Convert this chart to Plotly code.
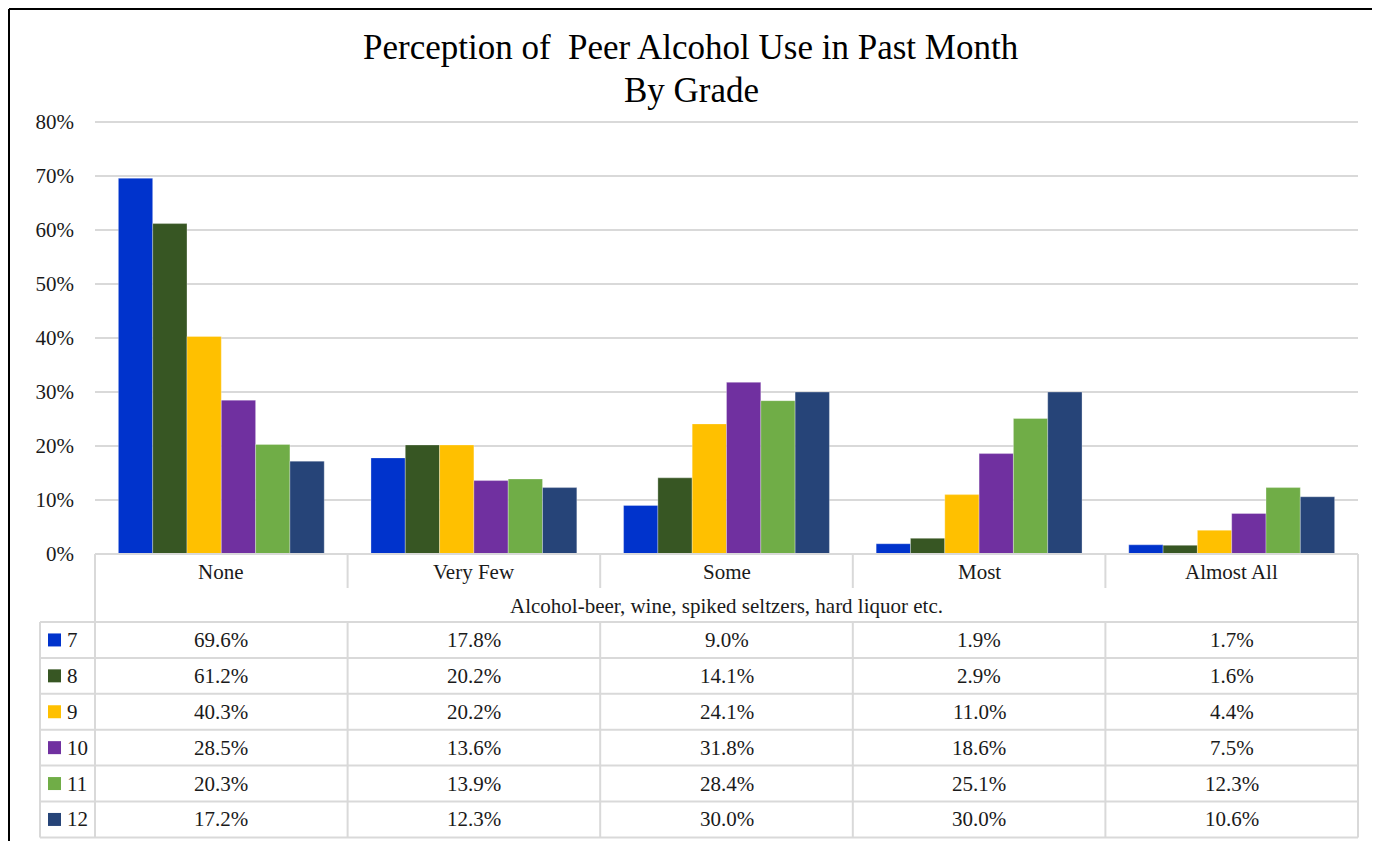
import plotly.graph_objects as go

W, H = 1380, 841
# the page body adds an 8px offset; positions below are measured on the final picture
OFF = 8

TITLE_LINES = ["Perception of\u00a0 Peer Alcohol Use in Past Month", "By Grade"]
SUBTITLE = "Alcohol-beer, wine, spiked seltzers, hard liquor etc."

categories = ["None", "Very Few", "Some", "Most", "Almost All"]
grades = ["7", "8", "9", "10", "11", "12"]

grade_7 = [69.6, 17.8, 9.0, 1.9, 1.7]
grade_8 = [61.2, 20.2, 14.1, 2.9, 1.6]
grade_9 = [40.3, 20.2, 24.1, 11.0, 4.4]
grade_10 = [28.5, 13.6, 31.8, 18.6, 7.5]
grade_11 = [20.3, 13.9, 28.4, 25.1, 12.3]
grade_12 = [17.2, 12.3, 30.0, 30.0, 10.6]
series = [grade_7, grade_8, grade_9, grade_10, grade_11, grade_12]

y_ticks = [0, 10, 20, 30, 40, 50, 60, 70, 80]
y_tick_labels = ["0%", "10%", "20%", "30%", "40%", "50%", "60%", "70%", "80%"]

colors = ["#0033CC", "#375623", "#FFC000", "#7030A0", "#70AD47", "#264478"]

FONT = "Liberation Serif"
TEXT = "#1a1a1a"
LINE = "#D9D9D9"


def px(x):
    return (x - OFF) / W


def py(y):
    return 1 - (y - OFF) / H


fig = go.Figure()
for name, vals, col in zip(grades, series, colors):
    fig.add_trace(
        go.Bar(
            x=list(range(len(categories))),
            y=vals,
            name=name,
            marker=dict(color=col, line=dict(color="rgba(255,255,255,0.6)", width=0.5)),
            hovertemplate="%{y:.1f}%<extra>" + name + "</extra>",
        )
    )

shapes = []


def hline(y, x0, x1, xref="paper", color=LINE):
    shapes.append(dict(type="line", xref=xref, yref="paper", x0=x0, x1=x1,
                       y0=py(y), y1=py(y), line=dict(color=color, width=2)))


def vline(x, y0, y1, xref="paper", color=LINE):
    shapes.append(dict(type="line", xref=xref, yref="paper", x0=x, x1=x,
                       y0=py(y0), y1=py(y1), line=dict(color=color, width=2)))


# table geometry (pixels)
T_TOP, T_CAT, T_SUB = 554, 588, 622
ROW_H = 35.9
n_rows = len(grades)
row_lines = [T_SUB + i * ROW_H for i in range(n_rows + 1)]
LEG_L, LEG_R, RIGHT = 40, 95, 1358

hline(T_TOP, px(LEG_R), px(RIGHT))
for y in row_lines:
    hline(y, px(LEG_L), px(RIGHT))
vline(px(LEG_R), T_TOP, row_lines[-1])
vline(px(RIGHT), T_TOP, row_lines[-1])
vline(px(LEG_L), T_SUB, row_lines[-1])
for k in range(len(categories) - 1):
    vline(k + 0.5, T_TOP, T_CAT, xref="x")
    vline(k + 0.5, T_SUB, row_lines[-1], xref="x")

# outer chart frame (kept just inside the drawing area)
vline(px(9), 9, 845, color="black")
vline(px(1373), 9, 845, color="black")
hline(9, px(9), px(1373), color="black")

annotations = []
for line_text, yc in zip(TITLE_LINES, [48, 90]):
    annotations.append(dict(text=line_text, x=px(691), y=py(yc), xref="paper", yref="paper",
                            showarrow=False, yanchor="middle",
                            font=dict(family=FONT, size=35, color="black")))

for i, cat in enumerate(categories):
    annotations.append(dict(text=cat, x=i, y=py(572), xref="x", yref="paper",
                            showarrow=False, yanchor="middle",
                            font=dict(family=FONT, size=21, color=TEXT)))
annotations.append(dict(text=SUBTITLE, x=2, y=py(606), xref="x", yref="paper",
                        showarrow=False, yanchor="middle",
                        font=dict(family=FONT, size=21, color=TEXT)))

for r, (name, vals, col) in enumerate(zip(grades, series, colors)):
    yc = T_SUB + (r + 0.5) * ROW_H
    shapes.append(dict(type="rect", xref="paper", yref="paper", x0=px(48), x1=px(61),
                       y0=py(yc - 6.5), y1=py(yc + 6.5), fillcolor=col, line=dict(width=0)))
    annotations.append(dict(text=name, x=px(65), y=py(yc), xref="paper", yref="paper",
                            showarrow=False, xanchor="left", yanchor="middle",
                            font=dict(family=FONT, size=21, color=TEXT)))
    for i, v in enumerate(vals):
        annotations.append(dict(text=f"{v:.1f}%", x=i, y=py(yc), xref="x", yref="paper",
                                showarrow=False, yanchor="middle",
                                font=dict(family=FONT, size=21, color=TEXT)))

fig.update_layout(
    width=W,
    height=H,
    margin=dict(l=0, r=0, t=0, b=0, pad=0, autoexpand=False),
    paper_bgcolor="white",
    plot_bgcolor="white",
    showlegend=False,
    barmode="group",
    bargap=0.185,
    bargroupgap=0,
    xaxis=dict(domain=[px(95), px(RIGHT)], range=[-0.5, 4.5], showticklabels=False,
               showgrid=False, zeroline=False, showline=False, fixedrange=True),
    yaxis=dict(domain=[py(554), py(121)], range=[0, 80.2], tickmode="array",
               tickvals=y_ticks, ticktext=y_tick_labels,
               showgrid=True, gridcolor=LINE, gridwidth=2, zeroline=False,
               showline=False, automargin=False, ticklabelstandoff=20,
               tickfont=dict(family=FONT, size=21, color=TEXT), fixedrange=True),
    shapes=shapes,
    annotations=annotations,
)

fig.write_html("out.html")
